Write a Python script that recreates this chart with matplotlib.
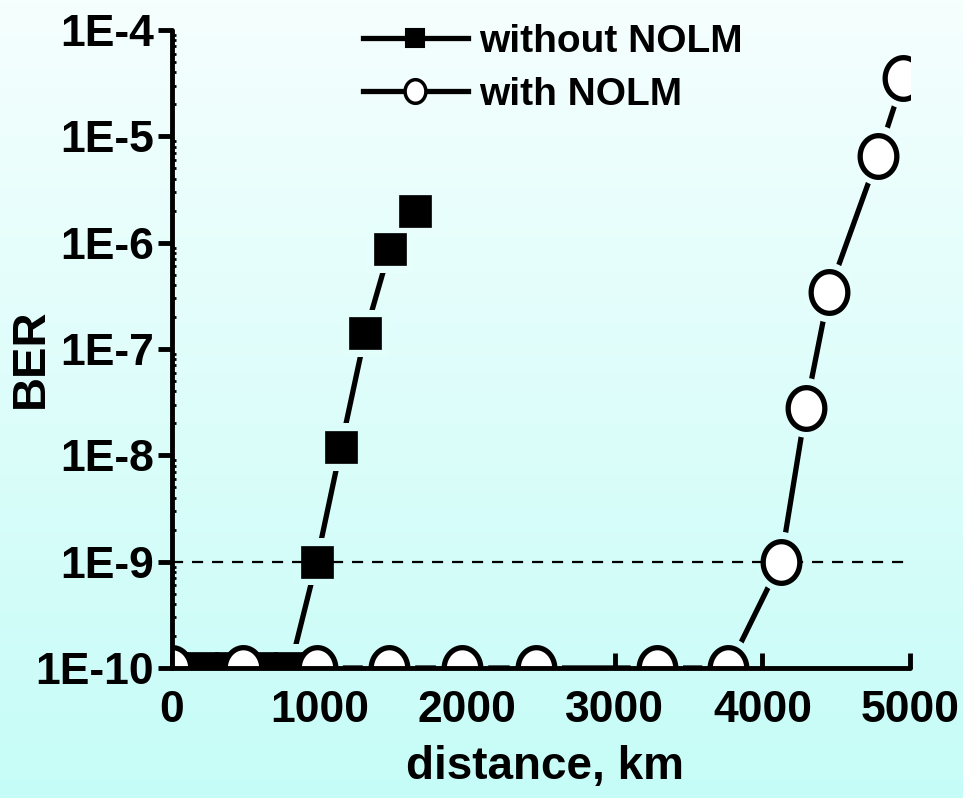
import numpy as np
import matplotlib
matplotlib.use("Agg")
import matplotlib.pyplot as plt
from matplotlib.path import Path
from matplotlib.colors import to_rgb

# ---------------- data ----------------
dist_without = [0, 200, 400, 600, 800, 980, 1145, 1310, 1475, 1645]
ber_without = [1e-10, 1e-10, 1e-10, 1e-10, 1e-10, 1e-9, 1.2e-8, 1.4e-7, 8.7e-7, 2.0e-6]

dist_with = [0, 480, 980, 1470, 1965, 2465, 3285, 3770, 4125, 4295, 4450, 4785, 4955]
ber_with = [1e-10, 1e-10, 1e-10, 1e-10, 1e-10, 1e-10, 1e-10, 1e-10, 1e-9, 2.8e-8, 3.4e-7, 6.6e-6, 3.5e-5]

threshold = 1e-9
xticks = [0, 1000, 2000, 3000, 4000, 5000]
yticks = [1e-10, 1e-9, 1e-8, 1e-7, 1e-6, 1e-5, 1e-4]
yticklabels = ["1E-10", "1E-9", "1E-8", "1E-7", "1E-6", "1E-5", "1E-4"]
series_labels = ["without NOLM", "with NOLM"]

# ---------------- style ----------------
plt.rcParams['font.family'] = ['Liberation Sans', 'DejaVu Sans']
plt.rcParams['font.weight'] = 'bold'

W, H = 963, 798
fig = plt.figure(figsize=(W / 100, H / 100), dpi=100)

top_col = np.array(to_rgb("#f5fffe"))
bot_col = np.array(to_rgb("#c6fcf7"))

bg = fig.add_axes([0, 0, 1, 1], zorder=-10)
t = np.linspace(0, 1, 256)[:, None]
grad = top_col[None, None, :] * (1 - t[..., None]) + bot_col[None, None, :] * t[..., None]
grad = np.repeat(grad, 2, axis=1)
bg.imshow(grad, aspect='auto', extent=[0, 1, 0, 1], origin='upper')
bg.set_axis_off()

ax = fig.add_axes([172 / W, 1 - 668 / H, (910 - 172) / W, (668 - 30) / H])
ax.patch.set_alpha(0)

ax.set_yscale('log')
ax.set_xlim(0, 5000)
ax.set_ylim(1e-10, 1e-4)

# ellipse marker for the circles (slightly taller than wide)
th = np.linspace(0, 2 * np.pi, 60)
ell = Path(np.column_stack([0.44 * np.cos(th), 0.5 * np.sin(th)]), closed=True)

lw = 3.8
ax.plot(dist_without, ber_without, color='black', lw=lw, zorder=2, solid_capstyle='round')
ax.plot(dist_with, ber_with, color='black', lw=lw, zorder=2, solid_capstyle='round')


def bg_color_at(xs, ys):
    pts = ax.transData.transform(np.column_stack([xs, ys]))
    frac = 1 - pts[:, 1] / H
    frac = np.clip(frac, 0, 1)
    return [tuple(top_col * (1 - f) + bot_col * f) for f in frac]


# halos to create the gap between lines and markers
ax.scatter(dist_without, ber_without, marker='s', s=(34) ** 2,
           c=bg_color_at(dist_without, ber_without), linewidths=0, zorder=3)
ax.scatter(dist_with, ber_with, marker=ell, s=(43) ** 2,
           c=bg_color_at(dist_with, ber_with), linewidths=0, zorder=3)

ax.axhline(threshold, color='black', lw=1.6, ls=(0, (5, 4)), zorder=3.5)

ax.plot(dist_without, ber_without, ls='none', marker='s', ms=23,
        mfc='black', mec='black', mew=0.5, zorder=4)
ax.plot(dist_with, ber_with, ls='none', marker=ell, ms=30,
        mfc='white', mec='black', mew=3.8, zorder=4)

# legend handles (line + marker)
h1, = ax.plot([], [], color='black', lw=lw, marker='s', ms=13, mfc='black',
              mec='black', mew=1.5)
h2, = ax.plot([], [], color='black', lw=lw, marker=ell, ms=17, mfc='white',
              mec='black', mew=2.5)
leg = fig.legend([h1, h2], series_labels, loc='upper left',
                 bbox_to_anchor=(347 / W, 1 - 8 / H), frameon=False,
                 fontsize=28, handlelength=2.7, handletextpad=0.3,
                 labelspacing=0.45, borderaxespad=0)
for txt in leg.get_texts():
    txt.set_fontweight('bold')

ax.set_xticks(xticks)
ax.set_xticklabels([str(v) for v in xticks])
ax.set_yticks(yticks)
ax.set_yticklabels(yticklabels)
ax.yaxis.set_minor_locator(matplotlib.ticker.LogLocator(base=10, subs=np.arange(2, 10)))
ax.yaxis.set_minor_formatter(matplotlib.ticker.NullFormatter())
ax.xaxis.set_minor_locator(matplotlib.ticker.NullLocator())

ax.tick_params(axis='x', which='major', direction='in', length=11, width=3.5,
               labelsize=32, pad=16)
ax.tick_params(axis='y', which='major', direction='out', length=10, width=3.5,
               labelsize=32, pad=3)
ax.tick_params(axis='y', which='minor', direction='in', length=3, width=2)

for s in ['top', 'right']:
    ax.spines[s].set_visible(False)
for s in ['left', 'bottom']:
    ax.spines[s].set_linewidth(3.5)
    ax.spines[s].set_zorder(5)
    ax.spines[s].set_capstyle('round')

ax.set_xlabel("distance, km", fontsize=33, fontweight='bold')
ax.xaxis.set_label_coords((545 - 172) / 738, (668 - 745) / 638)
ax.set_ylabel("BER", fontsize=34, fontweight='bold')
ax.yaxis.set_label_coords((53 - 172) / 738, (668 - 358) / 638)

fig.savefig("out.png", dpi=100)
